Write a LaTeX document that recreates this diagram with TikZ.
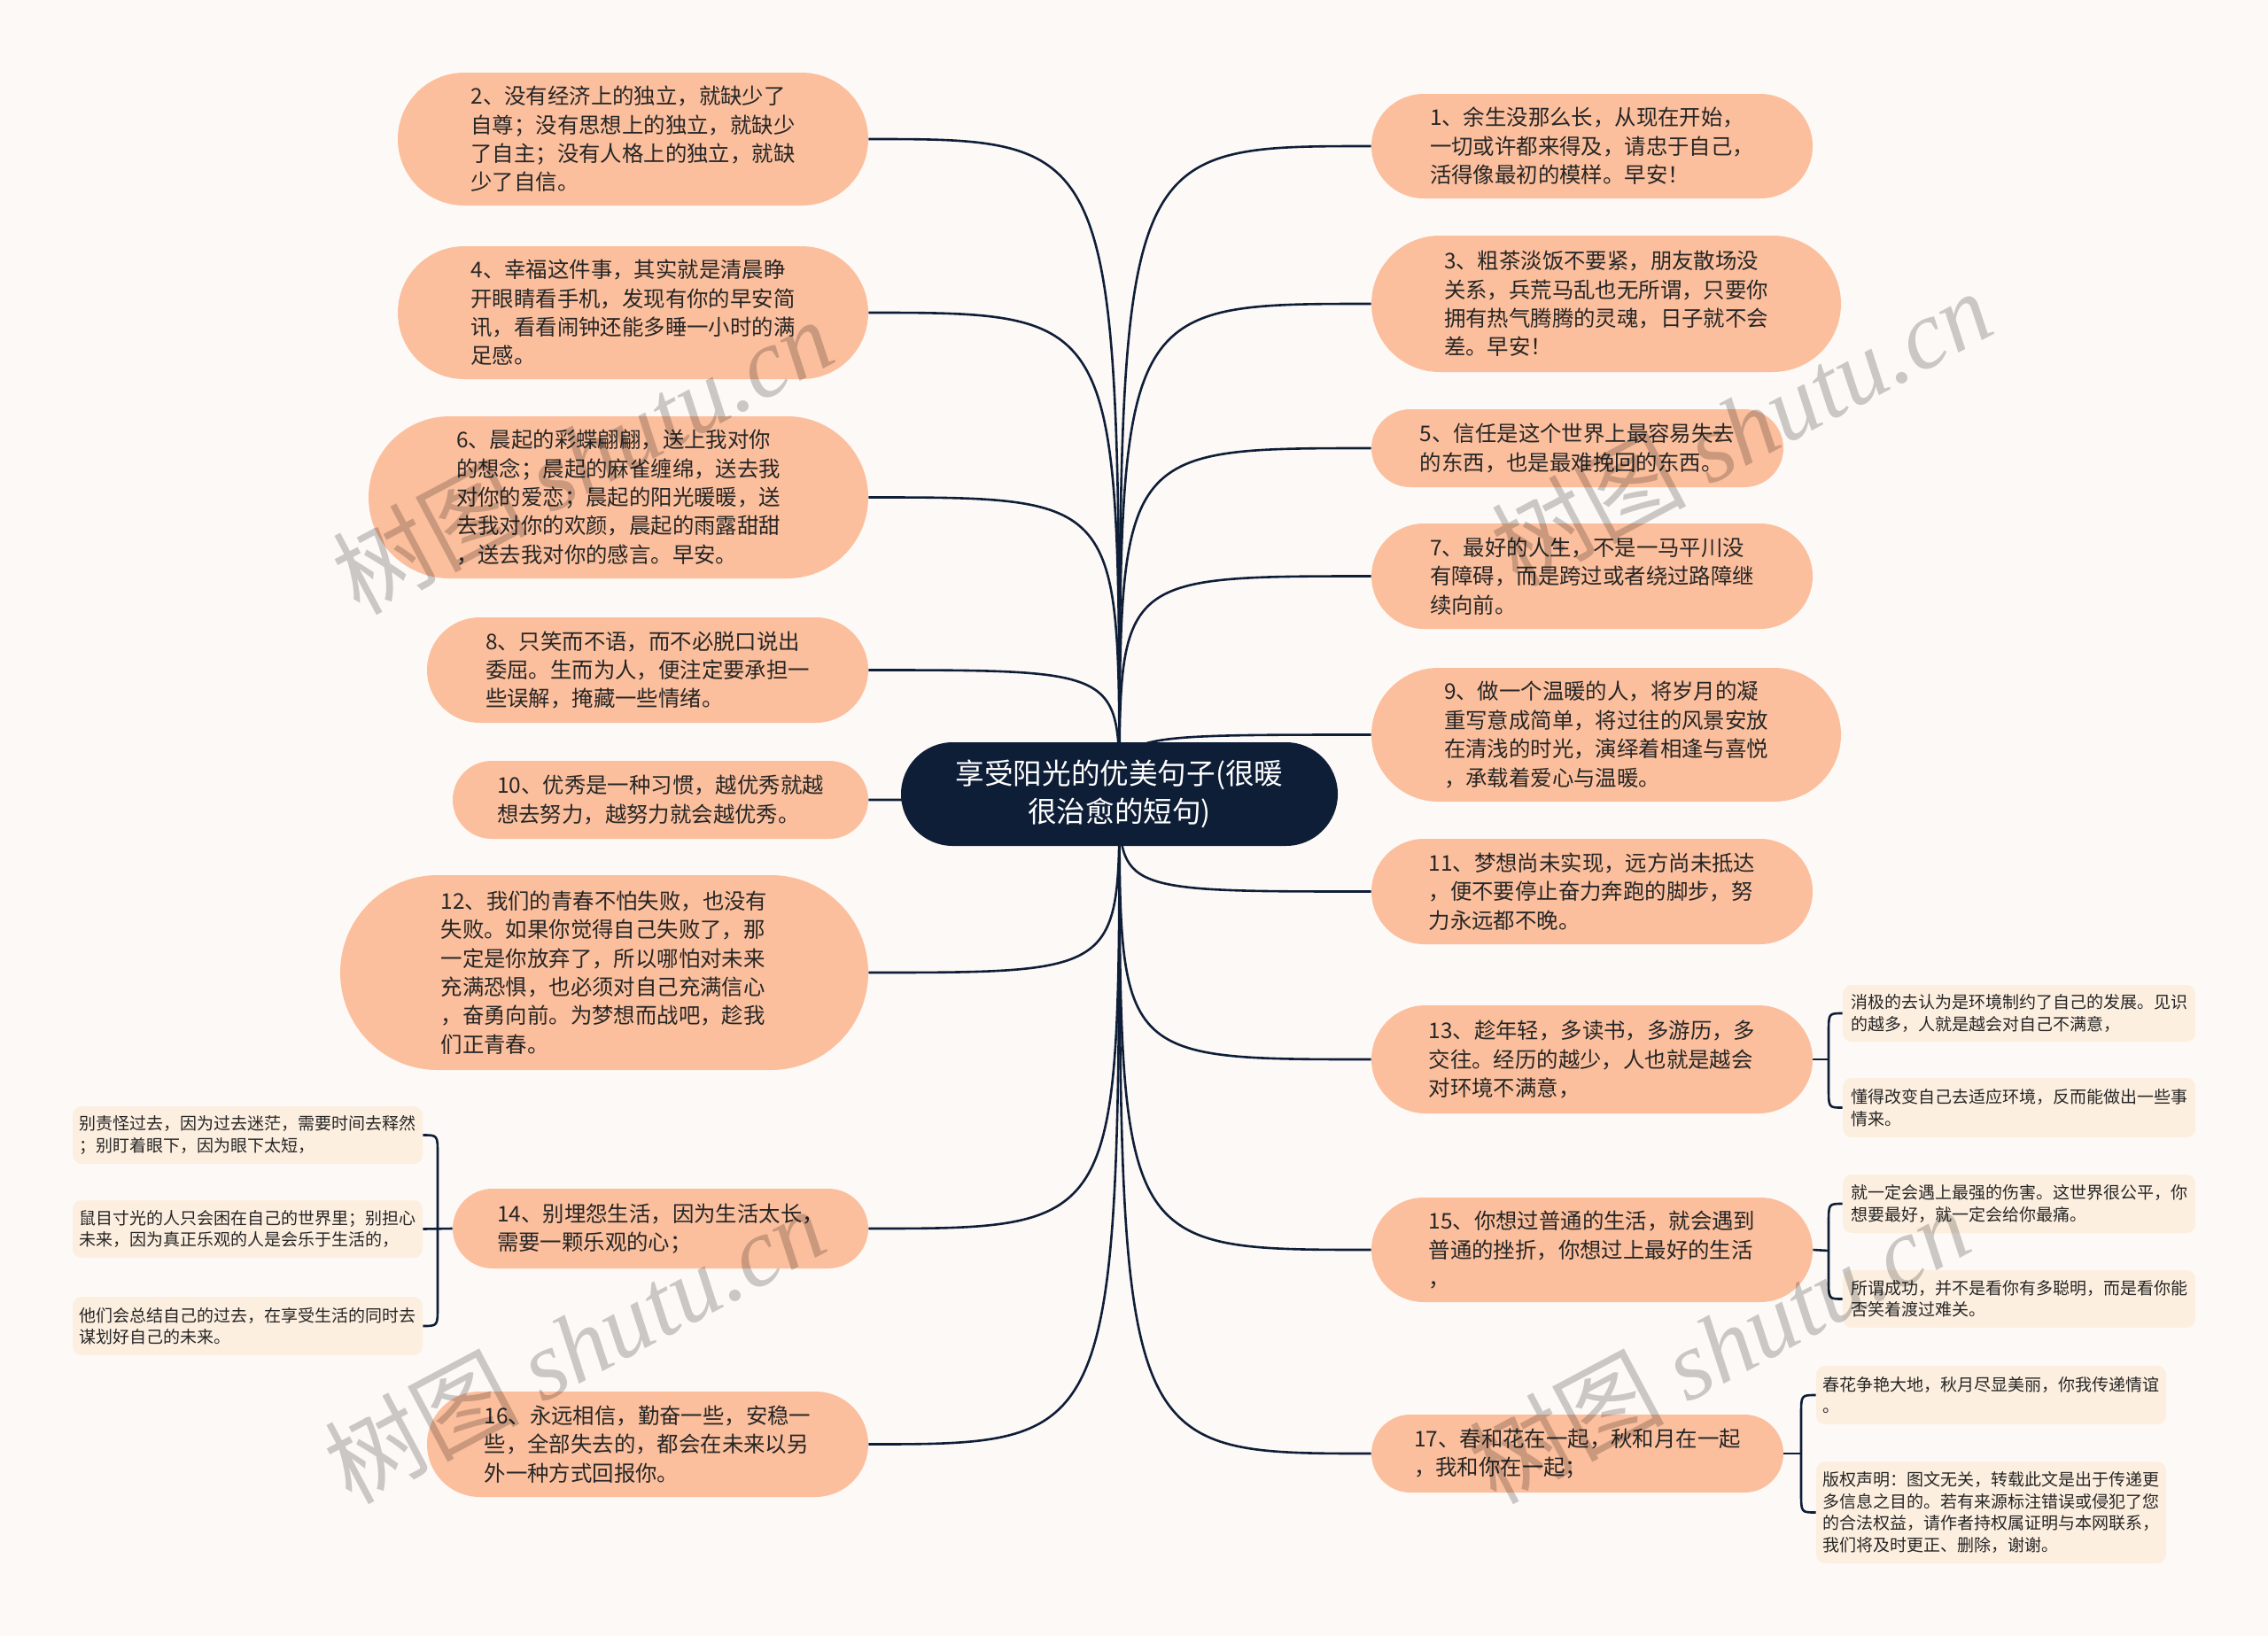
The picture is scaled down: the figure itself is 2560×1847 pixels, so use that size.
\documentclass[tikz,border=0pt]{standalone}
\usepackage{fontspec}
\setmainfont{Noto Sans CJK SC}
\newfontfamily\wmserif{Liberation Serif}
\usetikzlibrary{calc}
\definecolor{bgc}{HTML}{FDF9F7}
\definecolor{peach}{HTML}{FCBF9D}
\definecolor{cream}{HTML}{FDEFE0}
\definecolor{navy}{HTML}{0F1E37}
\definecolor{txt}{HTML}{262626}
\pgfdeclarelayer{bg}\pgfdeclarelayer{lines}\pgfsetlayers{bg,lines,main}
% #1 style, #2 name, #3 x1, #4 y1, #5 x2, #6 y2, #7 text
\newcommand\pill[7]{%
  \pgfmathsetmacro\pw{(#5-#3)/2}%
  \pgfmathsetmacro\ph{(#6-#4)/2}%
  \pgfmathsetmacro\pr{\ph/2}%
  \pgfmathsetmacro\pcx{(#3+#5)/2}%
  \pgfmathsetmacro\pcy{(#4+#6)/2}%
  \node[#1, minimum width=\pw pt, minimum height=\ph pt, rounded corners=\pr pt] (#2) at (\pcx,\pcy) {#7};}
\newcommand\rbox[7]{%
  \pgfmathsetmacro\pw{(#5-#3)/2}%
  \pgfmathsetmacro\ph{(#6-#4)/2}%
  \pgfmathsetmacro\pcx{(#3+#5)/2}%
  \pgfmathsetmacro\pcy{(#4+#6)/2}%
  \node[#1, minimum width=\pw pt, minimum height=\ph pt] (#2) at (\pcx,\pcy) {#7};}
\newcommand\lconn[1]{\draw[conn] (root.center) .. controls (root.center |- #1.east) .. (#1.east);}
\newcommand\rconn[1]{\draw[conn] (root.center) .. controls (root.center |- #1.west) .. (#1.west);}
\tikzset{
  leaf/.style={fill=peach, text=txt, align=left, inner sep=0pt, font=\fontsize{12.2}{16.2}\selectfont},
  subleaf/.style={fill=cream, text=txt, align=left, inner sep=0pt, rounded corners=5pt, font=\fontsize{9.5}{12.2}\selectfont},
  rootbox/.style={fill=navy, text=white, align=center, inner sep=0pt, font=\fontsize{16.3}{21.2}\selectfont},
  conn/.style={draw=navy, line width=1.3pt},
  wm/.style={text=black, text opacity=0.2, font=\fontsize{55}{58}\selectfont, inner sep=0pt}
}
\begin{document}
\begin{tikzpicture}[x=0.5pt,y=-0.5pt]
\begin{pgfonlayer}{bg}
\fill[bgc] (0,0) rectangle (2560,1847);
\end{pgfonlayer}
\useasboundingbox (0,0) rectangle (2560,1847);

% root
\pill{rootbox}{root}{1017}{838}{1510}{955}{享受阳光的优美句子(很暖\\很治愈的短句)}

% left leaves
\pill{leaf}{n2}{449}{82}{980}{232}{2、没有经济上的独立，就缺少了\\自尊；没有思想上的独立，就缺少\\了自主；没有人格上的独立，就缺\\少了自信。}
\pill{leaf}{n4}{449}{278}{980}{428}{4、幸福这件事，其实就是清晨睁\\开眼睛看手机，发现有你的早安简\\讯，看看闹钟还能多睡一小时的满\\足感。}
\pill{leaf}{n6}{416}{470}{980}{653}{6、晨起的彩蝶翩翩，送上我对你\\的想念；晨起的麻雀缠绵，送去我\\对你的爱恋；晨起的阳光暖暖，送\\去我对你的欢颜，晨起的雨露甜甜\\，送去我对你的感言。早安。}
\pill{leaf}{n8}{482}{697}{980}{816}{8、只笑而不语，而不必脱口说出\\委屈。生而为人，便注定要承担一\\些误解，掩藏一些情绪。}
\pill{leaf}{n10}{511}{859}{980}{947}{10、优秀是一种习惯，越优秀就越\\想去努力，越努力就会越优秀。}
\pill{leaf}{n12}{384}{988}{980}{1208}{12、我们的青春不怕失败，也没有\\失败。如果你觉得自己失败了，那\\一定是你放弃了，所以哪怕对未来\\充满恐惧，也必须对自己充满信心\\，奋勇向前。为梦想而战吧，趁我\\们正青春。}
\pill{leaf}{n14}{511}{1342}{980}{1432}{14、别埋怨生活，因为生活太长，\\需要一颗乐观的心；}
\pill{leaf}{n16}{482}{1571}{980}{1690}{16、永远相信，勤奋一些，安稳一\\些，全部失去的，都会在未来以另\\外一种方式回报你。}

% right leaves
\pill{leaf}{n1}{1548}{106}{2046}{224}{1、余生没那么长，从现在开始，\\一切或许都来得及，请忠于自己，\\活得像最初的模样。早安！}
\pill{leaf}{n3}{1548}{266}{2078}{420}{3、粗茶淡饭不要紧，朋友散场没\\关系，兵荒马乱也无所谓，只要你\\拥有热气腾腾的灵魂，日子就不会\\差。早安！}
\pill{leaf}{n5}{1548}{462}{2013}{550}{5、信任是这个世界上最容易失去\\的东西，也是最难挽回的东西。}
\pill{leaf}{n7}{1548}{591}{2046}{710}{7、最好的人生，不是一马平川没\\有障碍，而是跨过或者绕过路障继\\续向前。}
\pill{leaf}{n9}{1548}{754}{2078}{905}{9、做一个温暖的人，将岁月的凝\\重写意成简单，将过往的风景安放\\在清浅的时光，演绎着相逢与喜悦\\，承载着爱心与温暖。}
\pill{leaf}{n11}{1548}{947}{2046}{1066}{11、梦想尚未实现，远方尚未抵达\\，便不要停止奋力奔跑的脚步，努\\力永远都不晚。}
\pill{leaf}{n13}{1548}{1135}{2046}{1257}{13、趁年轻，多读书，多游历，多\\交往。经历的越少，人也就是越会\\对环境不满意，}
\pill{leaf}{n15}{1548}{1352}{2046}{1470}{15、你想过普通的生活，就会遇到\\普通的挫折，你想过上最好的生活\\，}
\pill{leaf}{n17}{1548}{1597}{2013}{1685}{17、春和花在一起，秋和月在一起\\，我和你在一起；}

% sub leaves
\rbox{subleaf}{s14a}{82}{1249}{477}{1314}{别责怪过去，因为过去迷茫，需要时间去释然\\；别盯着眼下，因为眼下太短，}
\rbox{subleaf}{s14b}{82}{1355}{477}{1420}{鼠目寸光的人只会困在自己的世界里；别担心\\未来，因为真正乐观的人是会乐于生活的，}
\rbox{subleaf}{s14c}{82}{1464}{477}{1530}{他们会总结自己的过去，在享受生活的同时去\\谋划好自己的未来。}
\rbox{subleaf}{s13a}{2080}{1112}{2478}{1176}{消极的去认为是环境制约了自己的发展。见识\\的越多，人就是越会对自己不满意，}
\rbox{subleaf}{s13b}{2080}{1217}{2478}{1284}{懂得改变自己去适应环境，反而能做出一些事\\情来。}
\rbox{subleaf}{s15a}{2080}{1326}{2478}{1392}{就一定会遇上最强的伤害。这世界很公平，你\\想要最好，就一定会给你最痛。}
\rbox{subleaf}{s15b}{2080}{1434}{2478}{1499}{所谓成功，并不是看你有多聪明，而是看你能\\否笑着渡过难关。}
\rbox{subleaf}{s17a}{2050}{1542}{2445}{1608}{春花争艳大地，秋月尽显美丽，你我传递情谊\\。}
\rbox{subleaf}{s17b}{2050}{1650}{2445}{1765}{版权声明：图文无关，转载此文是出于传递更\\多信息之目的。若有来源标注错误或侵犯了您\\的合法权益，请作者持权属证明与本网联系，\\我们将及时更正、删除，谢谢。}

\coordinate (j14) at (494,1387);
\coordinate (j13) at (2064,1196);
\coordinate (j15) at (2064,1412);
\coordinate (j17) at (2033,1641);

\begin{pgfonlayer}{lines}
\lconn{n2}\lconn{n4}\lconn{n6}\lconn{n8}\lconn{n10}\lconn{n12}\lconn{n14}\lconn{n16}
\rconn{n1}\rconn{n3}\rconn{n5}\rconn{n7}\rconn{n9}\rconn{n11}\rconn{n13}\rconn{n15}\rconn{n17}
% bracket 14
\draw[conn] (s14a.east) .. controls (j14 |- s14a.east) .. ($(j14 |- s14a.east)+(0,22)$) -- ($(j14 |- s14c.east)+(0,-22)$) .. controls (j14 |- s14c.east) .. (s14c.east);
\draw[conn] (s14b.east) -- (n14.west);
% bracket 13
\draw[conn] (s13a.west) .. controls (j13 |- s13a.west) .. ($(j13 |- s13a.west)+(0,22)$) -- ($(j13 |- s13b.west)+(0,-22)$) .. controls (j13 |- s13b.west) .. (s13b.west);
\draw[conn] (n13.east) -- (j13);
% bracket 15
\draw[conn] (s15a.west) .. controls (j15 |- s15a.west) .. ($(j15 |- s15a.west)+(0,22)$) -- ($(j15 |- s15b.west)+(0,-22)$) .. controls (j15 |- s15b.west) .. (s15b.west);
\draw[conn] (n15.east) -- (j15);
% bracket 17
\draw[conn] (s17a.west) .. controls (j17 |- s17a.west) .. ($(j17 |- s17a.west)+(0,22)$) -- ($(j17 |- s17b.west)+(0,-22)$) .. controls (j17 |- s17b.west) .. (s17b.west);
\draw[conn] (n17.east) -- (j17);
\end{pgfonlayer}

% watermarks
\node[wm, rotate=28] (wm1) at (657,514) {树图 {\wmserif\itshape shutu.cn}};
\node[wm, rotate=28] (wm2) at (1965,482) {树图 {\wmserif\itshape shutu.cn}};
\node[wm, rotate=28] (wm3) at (648,1518) {树图 {\wmserif\itshape shutu.cn}};
\node[wm, rotate=28] (wm4) at (1940,1518) {树图 {\wmserif\itshape shutu.cn}};
\end{tikzpicture}
\end{document}
